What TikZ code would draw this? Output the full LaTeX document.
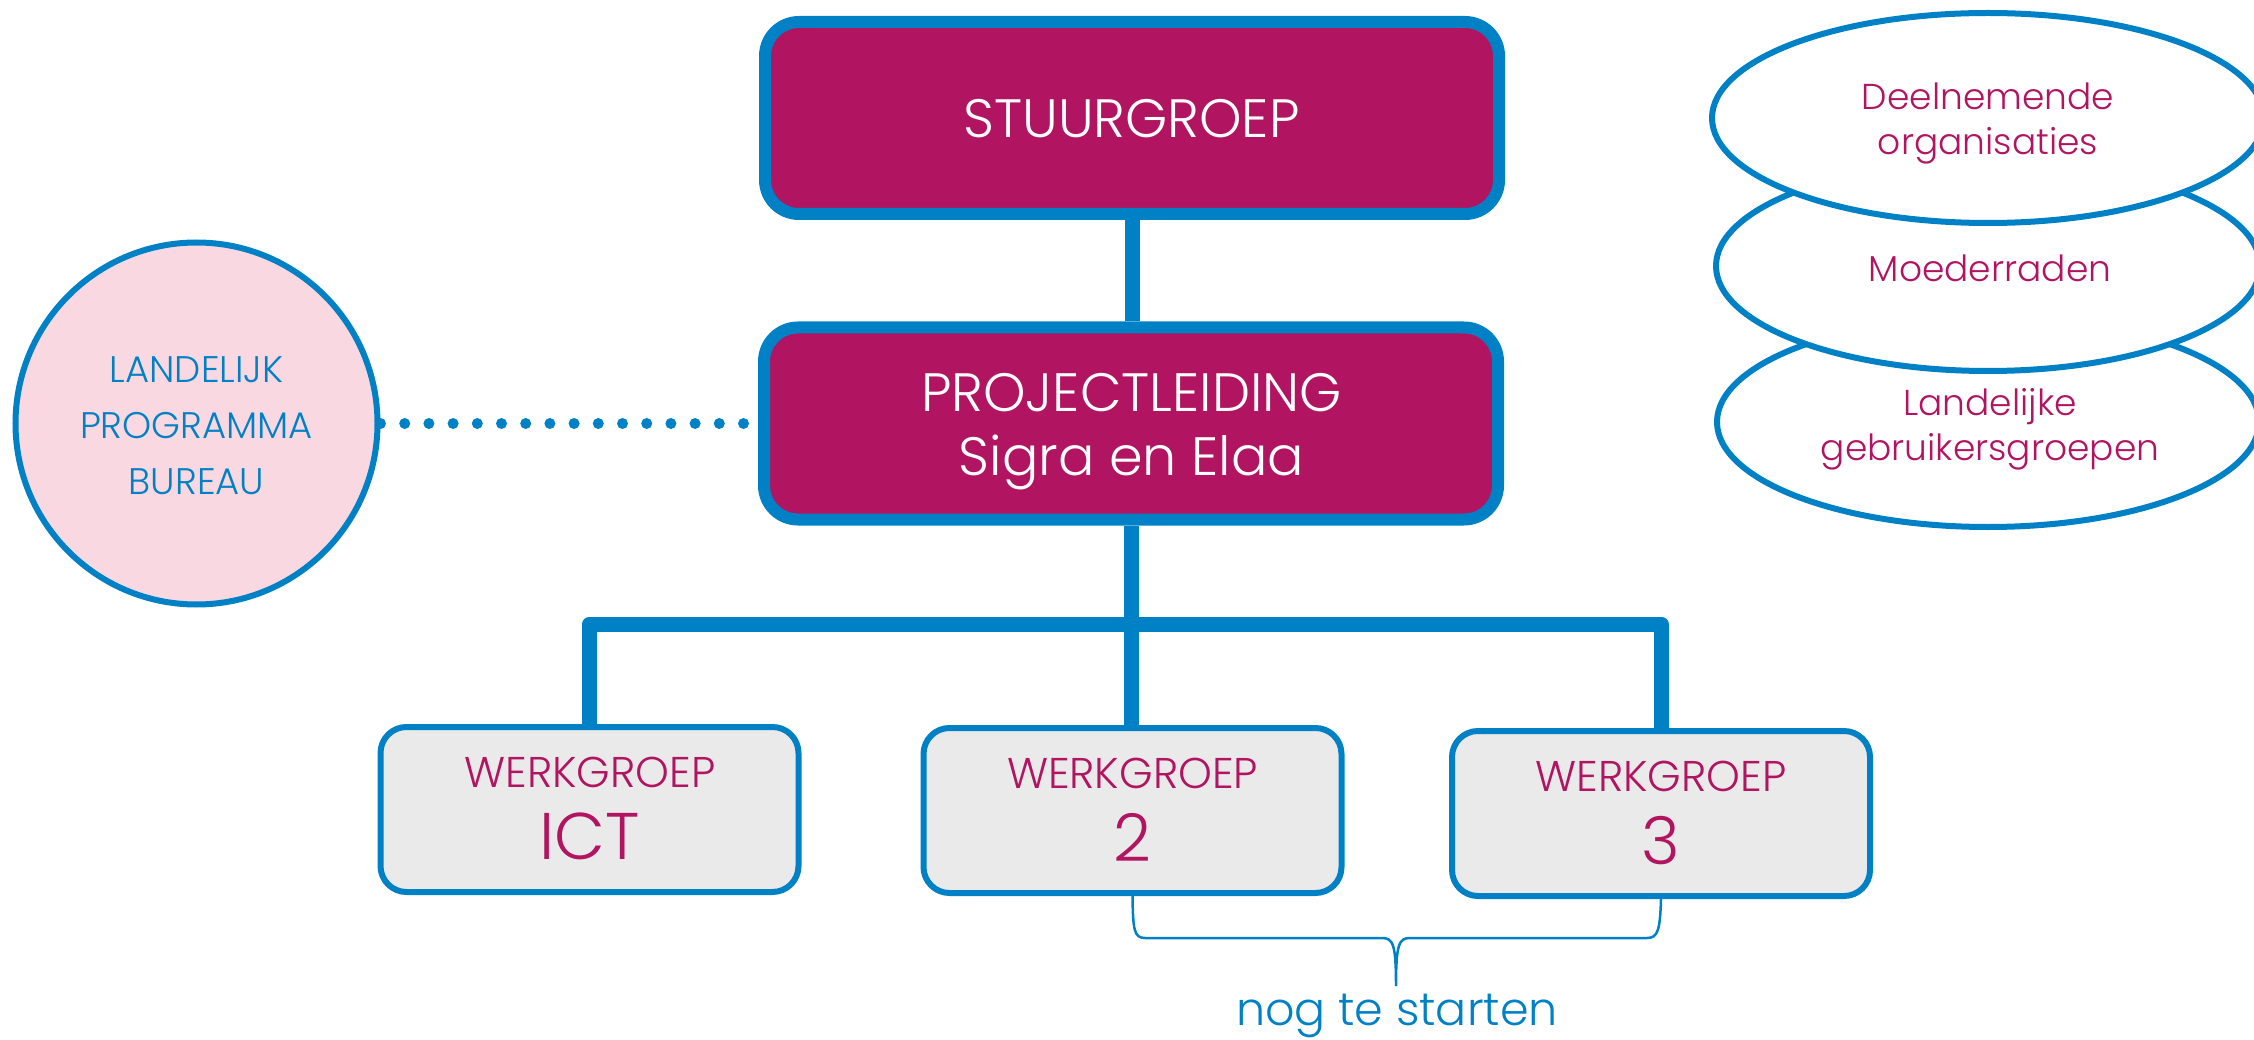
\documentclass[tikz,border=0pt]{standalone}
\usepackage{fontspec}
\IfFontExistsTF{Poppins Light}{\setmainfont{Poppins Light}}{\setmainfont{Poppins}}
\usetikzlibrary{shapes.geometric}
\definecolor{mag}{HTML}{B11460}
\definecolor{cblue}{HTML}{0081C6}
\definecolor{pinkf}{HTML}{F9D8E1}
\definecolor{grayf}{HTML}{EAEAEA}
\pgfdeclarelayer{bg}
\pgfsetlayers{bg,main}
\begin{document}
\begin{tikzpicture}[x=1pt,y=-1pt,
  topbox/.style={draw=cblue, line width=12pt, fill=mag, rounded corners=34pt, minimum width=734pt, minimum height=192pt, inner sep=0pt},
  wgbox/.style={draw=cblue, line width=6pt, fill=grayf, rounded corners=26pt, minimum width=418pt, minimum height=165pt, inner sep=0pt},
  grp/.style={ellipse, draw=cblue, line width=6pt, fill=white, inner sep=0pt, minimum height=210pt},
  lpbstyle/.style={circle, draw=cblue, line width=6pt, fill=pinkf, minimum size=362pt, inner sep=0pt},
  toptext/.style={anchor=base, inner sep=0pt, text=white, font=\fontsize{54}{64}\selectfont},
  wgtext/.style={anchor=base, inner sep=0pt, text=mag, font=\fontsize{43}{50}\selectfont},
  wgnum/.style={anchor=base, inner sep=0pt, text=mag, font=\fontsize{66}{72}\selectfont},
  grptext/.style={anchor=base, inner sep=0pt, text=mag, font=\fontsize{36}{45}\selectfont},
  lpbtext/.style={anchor=base, inner sep=0pt, text=cblue, font=\fontsize{37}{55}\selectfont},
  conn/.style={draw=cblue, line width=15pt},
  dots/.style={draw=cblue, line width=11pt, line cap=round, dash pattern=on 0pt off 24.2pt},
  bracket/.style={draw=cblue, line width=2.5pt},
  lbl/.style={anchor=base, inner sep=0pt, text=cblue, font=\fontsize{46}{56}\selectfont}
]
\useasboundingbox (0,0) rectangle (2254,1040);

% shapes
\node[topbox] (sg) at (1132,118) {};
\node[topbox] (pl) at (1131,423.5) {};
\node[lpbstyle] (lpb) at (196.5,423.5) {};
\node[wgbox] (wg1) at (589.5,809.5) {};
\node[wgbox] (wg2) at (1132.5,810.5) {};
\node[wgbox] (wg3) at (1661,813.5) {};
\node[grp, minimum width=542pt] (e3) at (1988,422) {};
\node[grp, minimum width=544pt] (e2) at (1988,266) {};
\node[grp, minimum width=552pt] (e1) at (1988,118) {};

% texts
\node[toptext] (sgt) at (1131.5,138) {STUURGROEP};
\node[toptext] (plt1) at (1131.5,411.5) {PROJECTLEIDING};
\node[toptext] (plt2) at (1131.5,475) {Sigra en Elaa};
\node[lpbtext] (lpbt1) at (196.5,383) {LANDELIJK};
\node[lpbtext] (lpbt2) at (196.5,438) {PROGRAMMA};
\node[lpbtext] (lpbt3) at (196.5,494) {BUREAU};
\node[wgtext] (wg1t) at (590,787) {WERKGROEP};
\node[wgnum] (wg1n) at (590,859) {ICT};
\node[wgtext] (wg2t) at (1132.5,788) {WERKGROEP};
\node[wgnum] (wg2n) at (1132.5,861) {2};
\node[wgtext] (wg3t) at (1661,791) {WERKGROEP};
\node[wgnum] (wg3n) at (1661,864) {3};
\node[grptext] (e1t1) at (1988,109.5) {Deelnemende};
\node[grptext] (e1t2) at (1988,155) {organisaties};
\node[grptext] (e2t) at (1990,282) {Moederraden};
\node[grptext] (e3t1) at (1990,415) {Landelijke};
\node[grptext] (e3t2) at (1990,460) {gebruikersgroepen};

\coordinate (bar) at (1132,624);
\coordinate (tip) at (1396,986);
\node[lbl] (nts) at (1397,1025) {nog te starten};

\begin{pgfonlayer}{bg}
\draw[conn] (sg.south) -- (sg.south |- pl.north);
\draw[conn] (pl.south) -- (pl.south |- wg2.north);
\draw[conn, line join=round] (wg1.north) -- (wg1.north |- bar) -- (wg3.north |- bar) -- (wg3.north);
\draw[dots] (lpb.east) -- (pl.west);
\end{pgfonlayer}

\draw[bracket] (wg2.south) .. controls (1133,930) and (1134,938) .. (1145,938) -- (1382,938)
  .. controls (1393,938) and (1396,944) .. (tip)
  .. controls (1396,944) and (1399,938) .. (1410,938) -- (1647,938)
  .. controls (1658,938) and (1660,930) .. (wg3.south);
\end{tikzpicture}
\end{document}
